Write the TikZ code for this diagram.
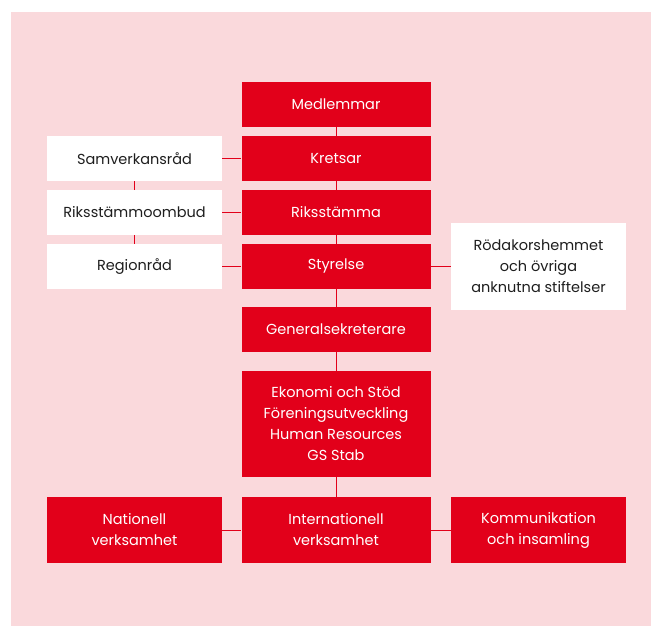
\documentclass[tikz,border=0pt]{standalone}
\usepackage{fontspec}
\setmainfont{Poppins}
\usepackage{xcolor}
\definecolor{krred}{HTML}{E2001A}
\definecolor{krpink}{HTML}{FAD9DC}
\definecolor{krtext}{HTML}{1E1E1E}
\usepackage{tikz}
\tikzstyle{redbox}=[fill=krred,text=white,minimum width=189pt,minimum height=45pt,align=center,inner sep=0pt,font=\fontsize{14.5}{21}\selectfont]
\tikzstyle{whitebox}=[fill=white,text=krtext,minimum width=175pt,minimum height=45pt,align=center,inner sep=0pt,font=\fontsize{14.5}{21}\selectfont]
\tikzstyle{conn}=[draw=krred,line width=1pt]

\begin{document}
\begin{tikzpicture}[x=1pt,y=-1pt]
  \useasboundingbox (0,0) rectangle (651,626);
  \fill[krpink] (11,12) rectangle (651,626);

  % main column
  \node[redbox] (medl) at (336,104.5) {Medlemmar};
  \node[redbox] (kretsar) at (336,158.5) {Kretsar};
  \node[redbox] (riks) at (336,212.5) {Riksstämma};
  \node[redbox] (styr) at (336,266.5) {Styrelse};
  \node[redbox] (gensek) at (336,329.5) {Generalsekreterare};
  \node[redbox,minimum height=106pt] (ekon) at (336,424)
    {Ekonomi och Stöd\\Föreningsutveckling\\Human Resources\\GS Stab};

  % left side
  \node[whitebox] (samv) at (134.5,158.5) {Samverkansråd};
  \node[whitebox] (rsombud) at (134.5,212.5) {Riksstämmoombud};
  \node[whitebox] (region) at (134.5,266.5) {Regionråd};

  % right side
  \node[whitebox,minimum height=87pt] (rkh) at (538.5,266.5)
    {Rödakorshemmet\\och övriga\\anknutna stiftelser};

  % bottom row
  \node[redbox,minimum height=66pt] (intl) at (336,530) {Internationell\\verksamhet};
  \node[redbox,minimum width=175pt,minimum height=66pt] (natl) at (134.5,530) {Nationell\\verksamhet};
  \node[redbox,minimum width=175pt,minimum height=66pt] (komm) at (538.5,530) {Kommunikation\\och insamling};

  \draw[conn] (medl) -- (kretsar) -- (riks) -- (styr) -- (gensek) -- (ekon) -- (intl);
  \draw[conn] (samv) -- (rsombud) -- (region);
  \draw[conn] (samv) -- (kretsar);
  \draw[conn] (rsombud) -- (riks);
  \draw[conn] (region) -- (styr);
  \draw[conn] (styr) -- (rkh);
  \draw[conn] (natl) -- (intl);
  \draw[conn] (intl) -- (komm);
\end{tikzpicture}
\end{document}
